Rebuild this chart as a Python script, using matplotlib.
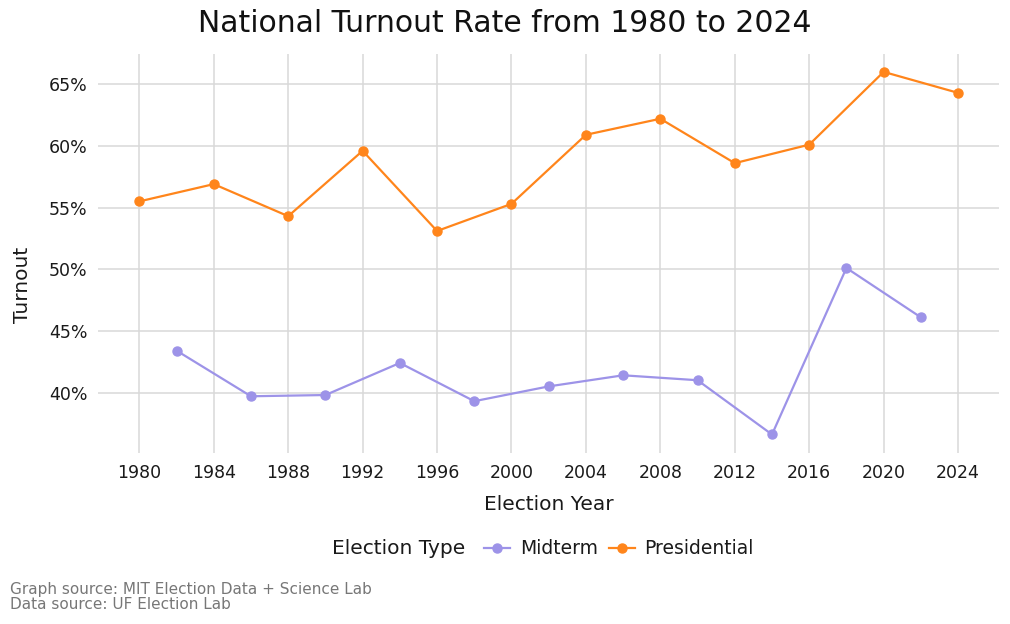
import matplotlib
matplotlib.use("Agg")
import matplotlib.pyplot as plt
from matplotlib.ticker import FuncFormatter, FixedLocator

plt.rcParams['font.family'] = ['DejaVu Sans']

pres_years = [1980, 1984, 1988, 1992, 1996, 2000, 2004, 2008, 2012, 2016, 2020, 2024]
pres_turnout = [55.5, 56.9, 54.3, 59.6, 53.1, 55.3, 60.9, 62.2, 58.6, 60.1, 66.0, 64.3]
mid_years = [1982, 1986, 1990, 1994, 1998, 2002, 2006, 2010, 2014, 2018, 2022]
mid_turnout = [43.4, 39.7, 39.8, 42.4, 39.3, 40.5, 41.4, 41.0, 36.6, 50.1, 46.1]
x_ticks = list(range(1980, 2025, 4))
y_ticks = [40, 45, 50, 55, 60, 65]

mid_color = "#9D93E8"
pres_color = "#FF851B"
W, H = 1010, 624

fig = plt.figure(figsize=(10.1, 6.24), dpi=100)
ax = fig.add_axes([98.4 / W, 1 - 453 / H, (999 - 98.4) / W, (453 - 54) / H])

ax.plot(mid_years, mid_turnout, color=mid_color, lw=1.6, marker='o', ms=6.5, label="Midterm")
ax.plot(pres_years, pres_turnout, color=pres_color, lw=1.6, marker='o', ms=6.5, label="Presidential")

ax.set_xlim(1977.8, 2026.2)
ax.set_ylim(35.1, 67.45)
ax.xaxis.set_major_locator(FixedLocator(x_ticks))
ax.yaxis.set_major_locator(FixedLocator(y_ticks))
ax.yaxis.set_major_formatter(FuncFormatter(lambda v, p: f"{v:.0f}%"))
ax.grid(True, color="#d9d9d9", lw=1.1)
ax.set_axisbelow(True)
for s in ax.spines.values():
    s.set_visible(False)
ax.tick_params(length=0, labelsize=12.5, colors="#1a1a1a", pad=8)

ax.set_xlabel("Election Year", fontsize=14.5, color="#1a1a1a", va='center')
ax.xaxis.set_label_coords(0.5, (453 - 505) / 399)
ax.set_ylabel("Turnout", fontsize=14.5, color="#1a1a1a", va='center')
ax.yaxis.set_label_coords((22 - 98.4) / 900.6, (453 - 285) / 399)

fig.text(0.5, 1 - 24 / H, "National Turnout Rate from 1980 to 2024", ha='center', va='center',
         fontsize=21.5, color="#111111")

fig.text(332 / W, 1 - 549 / H, "Election Type", ha='left', va='center', fontsize=14.5, color="#1a1a1a")
h, l = ax.get_legend_handles_labels()
fig.legend(h, l, loc='center left', bbox_to_anchor=(484 / W, 1 - 549 / H), ncol=2, frameon=False,
           fontsize=13.5, handlelength=1.4, columnspacing=0.6, handletextpad=0.5,
           borderpad=0, borderaxespad=0, labelcolor="#1a1a1a")

fig.text(10 / W, 1 - 597 / H, "Graph source: MIT Election Data + Science Lab\nData source: UF Election Lab",
         ha='left', va='center', fontsize=11, color="#777777", linespacing=1.0)

fig.savefig("out.png", dpi=100)
